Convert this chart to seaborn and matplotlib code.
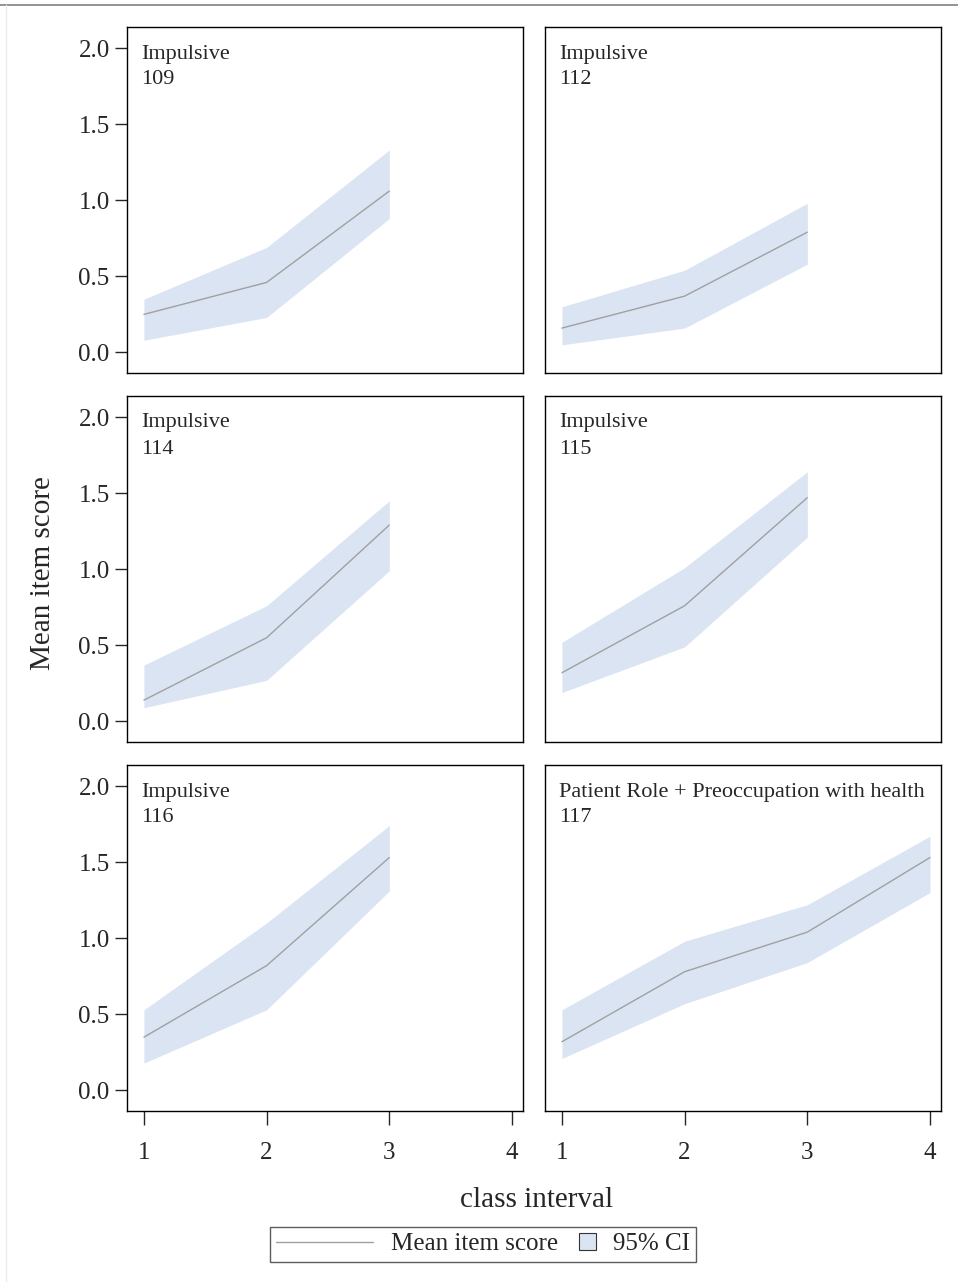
# mean item score by class interval, 95% CI bands
import pandas as pd
import matplotlib.pyplot as plt
import seaborn as sns
from matplotlib.lines import Line2D
from matplotlib.patches import Patch, Rectangle
from matplotlib.legend_handler import HandlerPatch

# -----------------------------------------------
# 1. DATA
# -----------------------------------------------
panel_ids = ["109", "112", "114", "115", "116", "117"]
panel_titles = ["Impulsive", "Impulsive", "Impulsive", "Impulsive", "Impulsive",
                "Patient Role + Preoccupation with health"]

intervals = {
    "109": [1, 2, 3], "112": [1, 2, 3], "114": [1, 2, 3],
    "115": [1, 2, 3], "116": [1, 2, 3], "117": [1, 2, 3, 4],
}
mean_score = {
    "109": [0.25, 0.46, 1.06],
    "112": [0.16, 0.37, 0.79],
    "114": [0.14, 0.55, 1.29],
    "115": [0.32, 0.76, 1.47],
    "116": [0.35, 0.82, 1.53],
    "117": [0.32, 0.78, 1.04, 1.53],
}
ci_low = {
    "109": [0.08, 0.23, 0.88],
    "112": [0.05, 0.16, 0.58],
    "114": [0.09, 0.27, 0.99],
    "115": [0.19, 0.49, 1.21],
    "116": [0.18, 0.53, 1.31],
    "117": [0.21, 0.57, 0.84, 1.30],
}
ci_high = {
    "109": [0.35, 0.69, 1.33],
    "112": [0.30, 0.54, 0.98],
    "114": [0.37, 0.76, 1.45],
    "115": [0.52, 1.01, 1.64],
    "116": [0.53, 1.10, 1.74],
    "117": [0.53, 0.98, 1.22, 1.67],
}

rows = []
for pid in panel_ids:
    for x, m, lo, hi in zip(intervals[pid], mean_score[pid], ci_low[pid], ci_high[pid]):
        rows.append({"panel": pid, "interval": x, "mean": m, "lo": lo, "hi": hi})
df = pd.DataFrame(rows)

# -----------------------------------------------
# 2. STYLE
# -----------------------------------------------
sns.set_style("white")
plt.rcParams["font.family"] = ["Liberation Serif", "DejaVu Serif"]

line_color = "#a0a0a0"
band_color = "#dbe4f2"

fig = plt.figure(figsize=(9.58, 12.82), dpi=100)

W, H = 958, 1282
col_left = [127, 545]
row_top = [27, 396, 765]
ax_w, ax_h = 396, 346

# -----------------------------------------------
# 3. PANELS
# -----------------------------------------------
for i, pid in enumerate(panel_ids):
    r, c = divmod(i, 2)
    ax = fig.add_axes([col_left[c] / W, 1 - (row_top[r] + ax_h) / H, ax_w / W, ax_h / H])
    sub = df[df["panel"] == pid]
    ax.fill_between(sub["interval"], sub["lo"], sub["hi"], color=band_color, lw=0)
    sns.lineplot(data=sub, x="interval", y="mean", ax=ax, color=line_color, lw=1,
                 estimator=None, errorbar=None)
    ax.set_xlim(0.862, 4.09)
    ax.set_ylim(-0.135, 2.138)
    ax.set_xticks([1, 2, 3, 4])
    ax.set_yticks([0.0, 0.5, 1.0, 1.5, 2.0])
    ax.set_xlabel("")
    ax.set_ylabel("")
    for s in ax.spines.values():
        s.set_color("black")
        s.set_linewidth(1.0)
    ax.tick_params(axis="y", direction="out", length=9, width=1, pad=3.5,
                   labelsize=18, left=(c == 0), labelleft=(c == 0))
    ax.tick_params(axis="x", direction="out", length=10, width=1, pad=12,
                   labelsize=18, bottom=(r == 2), labelbottom=(r == 2))
    ax.set_yticklabels(["0.0", "0.5", "1.0", "1.5", "2.0"])
    ax.text(14 / ax_w, 1 - 27 / ax_h, panel_titles[i], transform=ax.transAxes,
            fontsize=16, va="center", ha="left")
    ax.text(14 / ax_w, 1 - 53 / ax_h, pid, transform=ax.transAxes,
            fontsize=16, va="center", ha="left")

fig.text(43 / W, 1 - 573 / H, "Mean item score", rotation=90, fontsize=21,
         ha="center", va="center")
fig.text(537 / W, 1 - 1200 / H, "class interval", fontsize=21,
         ha="center", va="center")

# -----------------------------------------------
# 4. LEGEND
# -----------------------------------------------
def square_patch(legend, orig_handle, xdescent, ydescent, width, height, fontsize):
    s = height * 0.95
    return Rectangle((-xdescent + width - s, -ydescent + (height - s) / 2), s, s)

handles = [Line2D([], [], color=line_color, lw=1),
           Patch(facecolor=band_color, edgecolor="#333333", lw=0.8)]
leg = fig.legend(handles, ["Mean item score", "95% CI"], loc="center",
                 bbox_to_anchor=(483 / W, 1 - 1244 / H), ncol=2, fontsize=18,
                 frameon=True, fancybox=False, handlelength=3.9, handletextpad=0.7,
                 columnspacing=-2.4, borderpad=0.25, borderaxespad=0,
                 handler_map={Patch: HandlerPatch(patch_func=square_patch)})
leg.get_frame().set_edgecolor("#333333")
leg.get_frame().set_linewidth(1.0)

# page border lines
fig.add_artist(Line2D([0, 1], [1 - 5 / H, 1 - 5 / H], color="#808080", lw=1.2,
                      transform=fig.transFigure))
fig.add_artist(Line2D([6 / W, 6 / W], [0, 1 - 5 / H], color="#ececec", lw=1,
                      transform=fig.transFigure))

plt.savefig("out.png", dpi=100)
